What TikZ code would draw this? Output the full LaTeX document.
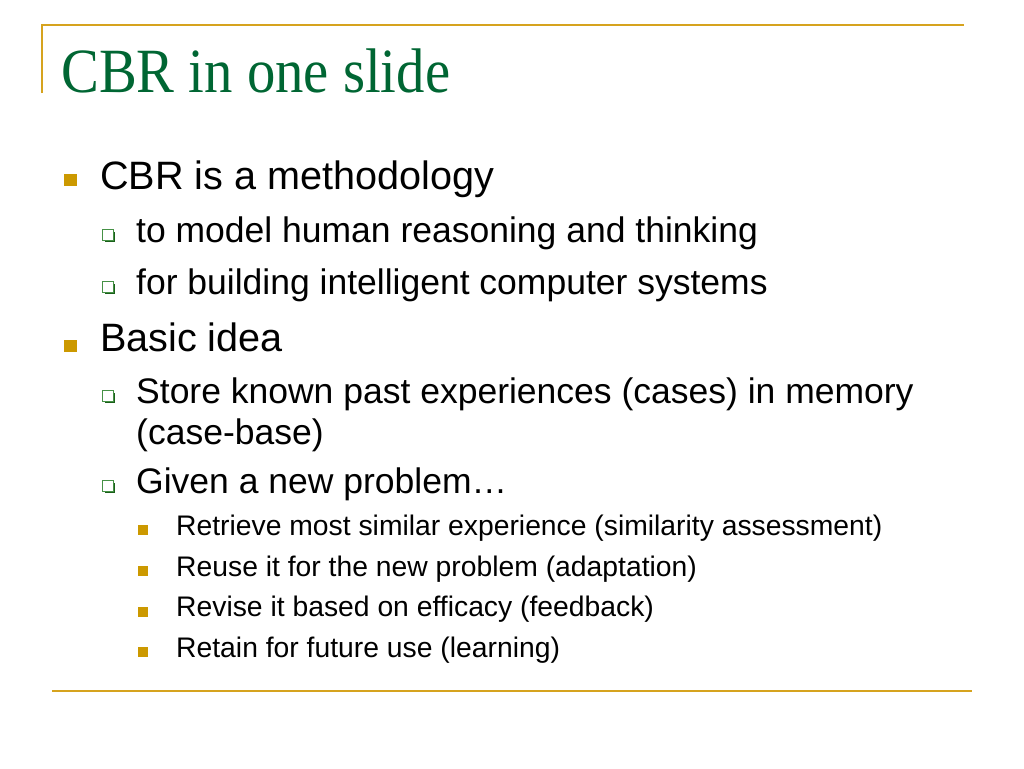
\documentclass[tikz,border=0pt]{standalone}
\usepackage{fontspec}
\setmainfont{Liberation Sans}
\newfontfamily\titlefont{Liberation Serif}
\definecolor{slidegold}{RGB}{214,163,30}
\definecolor{bulletgold}{RGB}{204,153,0}
\definecolor{titlegreen}{RGB}{0,102,51}
\definecolor{boxgreen}{RGB}{70,145,70}
\definecolor{shadowgreen}{RGB}{25,95,25}

\begin{document}
\begin{tikzpicture}[x=1pt,y=-1pt,
  rule/.style={draw=slidegold,line width=2pt},
  lvlone/.style={anchor=base west,inner sep=0pt,font=\fontsize{39.6}{46}\selectfont},
  lvltwo/.style={anchor=base west,inner sep=0pt,font=\fontsize{35.5}{42}\selectfont},
  lvlthree/.style={anchor=base west,inner sep=0pt,font=\fontsize{28.3}{34}\selectfont},
  bigsq/.style={fill=bulletgold,inner sep=0pt,minimum size=12.5pt},
  smallsq/.style={fill=bulletgold,inner sep=0pt,minimum size=10pt},
  hollowsq/.style={draw=boxgreen,fill=white,line width=0.9pt,inner sep=0pt,minimum size=10.5pt,
    preaction={fill=shadowgreen,transform canvas={shift={(1.8,1.8)}}}}]
  \useasboundingbox[fill=white] (0,0) rectangle (1024,768);
  % frame lines
  \coordinate (tl) at (42,25);
  \coordinate (tr) at (964,25);
  \coordinate (lb) at (42,93);
  \coordinate (bl) at (52,691);
  \coordinate (br) at (972,691);
  \draw[rule] (lb) -- (tl) -- (tr);
  \draw[rule] (bl) -- (br);
  % title
  \node (title) at (61,92) [anchor=base west,inner sep=0pt,text=titlegreen,
    font=\titlefont\fontsize{63}{70}\selectfont] {\scalebox{0.9}[1]{CBR in one slide}};
  % first level
  \node (b1) at (70.5,180) [bigsq] {};
  \node (t1) at (100,189) [lvlone] {CBR is a methodology};
  \node (b2) at (70.5,346) [bigsq] {};
  \node (t2) at (100,351) [lvlone] {Basic idea};
  % second level
  \node (c1) at (108,235) [hollowsq] {};
  \node (s1) at (136,242) [lvltwo] {to model human reasoning and thinking};
  \node (c2) at (108,287) [hollowsq] {};
  \node (s2) at (136,294) [lvltwo] {for building intelligent computer systems};
  \node (c3) at (108,396) [hollowsq] {};
  \node (s3) at (136,403) [lvltwo] {Store known past experiences (cases) in memory};
  \node (s3b) at (136,444) [lvltwo] {(case-base)};
  \node (c4) at (108,486) [hollowsq] {};
  \node (s4) at (136,493) [lvltwo] {Given a new problem…};
  % third level
  \node (d1) at (142.5,530) [smallsq] {};
  \node (r1) at (176,535.5) [lvlthree] {Retrieve most similar experience (similarity assessment)};
  \node (d2) at (142.5,571) [smallsq] {};
  \node (r2) at (176,576) [lvlthree] {Reuse it for the new problem (adaptation)};
  \node (d3) at (142.5,611.5) [smallsq] {};
  \node (r3) at (176,616.5) [lvlthree] {Revise it based on efficacy (feedback)};
  \node (d4) at (142.5,652) [smallsq] {};
  \node (r4) at (176,657) [lvlthree] {Retain for future use (learning)};
\end{tikzpicture}
\end{document}
